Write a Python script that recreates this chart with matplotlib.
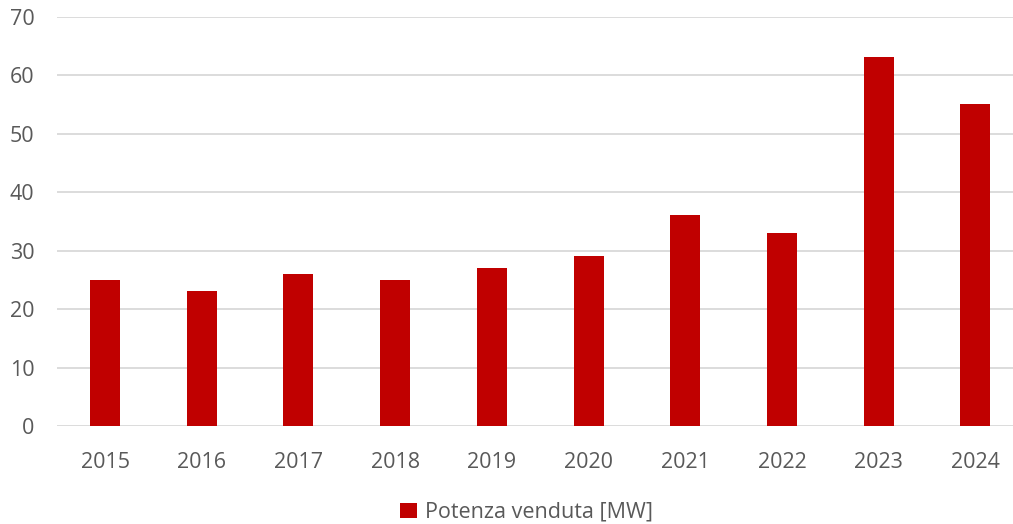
import matplotlib.pyplot as plt
import numpy as np

plt.rcParams['font.family'] = ['Open Sans', 'DejaVu Sans']

anni = ['2015', '2016', '2017', '2018', '2019', '2020', '2021', '2022', '2023', '2024']
potenza = [25, 23, 26, 25, 27, 29, 36, 33, 63, 55]
yticks = [0, 10, 20, 30, 40, 50, 60, 70]

fig = plt.figure(figsize=(10.13, 5.24), dpi=100)
ax = fig.add_axes([0.056, 0.187, 0.944, 0.7815])

x = np.arange(len(anni))
ax.bar(x, potenza, width=0.31, color='#C00000', label='Potenza venduta [MW]', zorder=3)

ax.set_xlim(-0.5, 9.39)
ax.set_ylim(0, 70)
ax.set_yticks(yticks)
ax.set_xticks(x)
ax.set_xticklabels(anni)
ax.yaxis.grid(True, color='#D9D9D9', linewidth=1.3, zorder=0)
for s in ax.spines.values():
    s.set_visible(False)
ax.tick_params(length=0, labelsize=15.5, colors='#595959')
ax.tick_params(axis='x', pad=19)
ax.tick_params(axis='y', pad=16)

fig.legend(loc='lower center', bbox_to_anchor=(0.52, -0.035), frameon=False,
           fontsize=15.5, labelcolor='#595959', handlelength=0.75, handleheight=0.75,
           handletextpad=0.4)

fig.savefig('out.png', dpi=100)
